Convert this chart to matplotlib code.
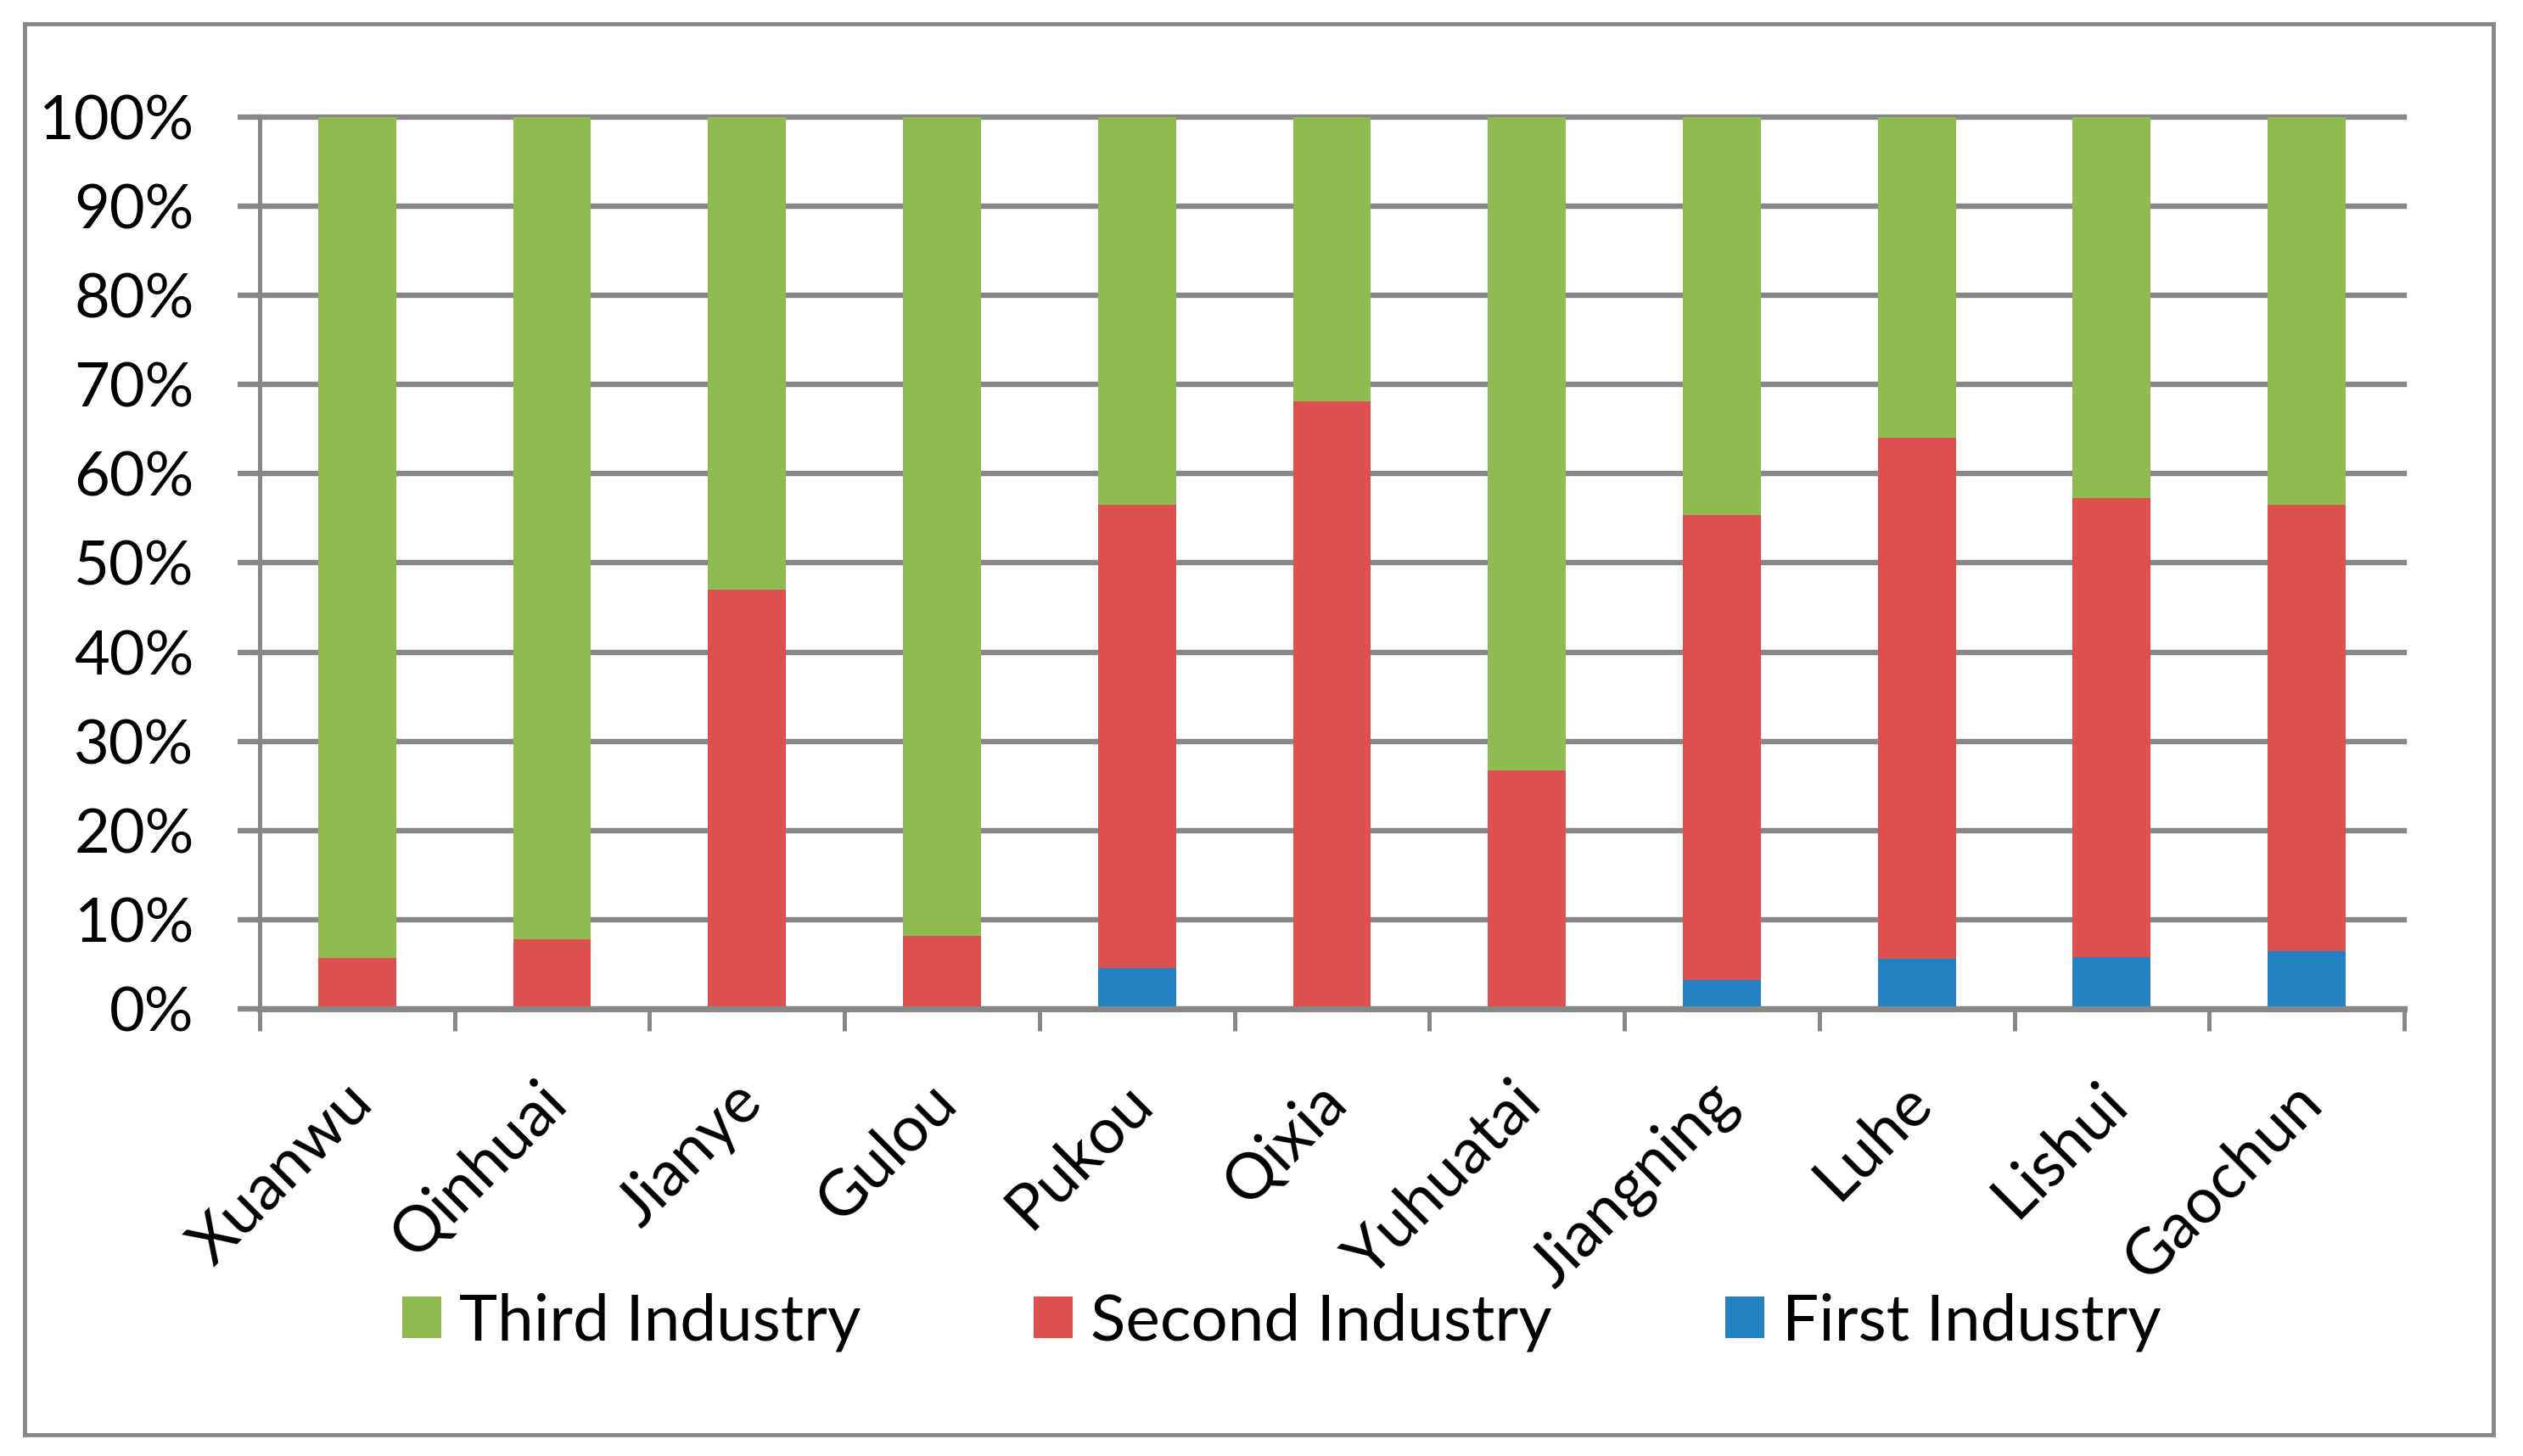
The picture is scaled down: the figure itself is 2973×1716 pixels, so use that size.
import matplotlib
matplotlib.use('Agg')
import matplotlib.pyplot as plt
import matplotlib.transforms as mtransforms
from matplotlib.patches import Patch, Rectangle
import numpy as np

districts = ['Xuanwu', 'Qinhuai', 'Jianye', 'Gulou', 'Pukou', 'Qixia',
             'Yuhuatai', 'Jiangning', 'Luhe', 'Lishui', 'Gaochun']
first_industry = [0.0, 0.0, 0.0, 0.0, 4.6, 0.3, 0.0, 3.2, 5.6, 5.8, 6.5]
second_industry = [5.7, 7.8, 47.0, 8.2, 51.9, 67.8, 26.7, 52.2, 58.4, 51.5, 50.0]
third_industry = [94.3, 92.2, 53.0, 91.8, 43.5, 31.9, 73.3, 44.6, 36.0, 42.7, 43.5]
y_ticks = [0, 10, 20, 30, 40, 50, 60, 70, 80, 90, 100]
y_tick_labels = [f'{v}%' for v in y_ticks]
series_names = ['Third Industry', 'Second Industry', 'First Industry']

GREEN = '#8EBC50'
RED = '#DE5050'
BLUE = '#2481C2'
GREY = '#878787'
FONT = 'Lato'
FS = 52
FS_X = 54
FS_LEG = 55

plt.rcParams['font.family'] = [FONT, 'DejaVu Sans']

fig = plt.figure(figsize=(29.73, 17.16), dpi=100)
ax = fig.add_axes([0.1029, 0.3071, 0.8500, 0.6125])

x = np.arange(len(districts))
w = 0.40
first = np.array(first_industry)
second = np.array(second_industry)
third = np.array(third_industry)
ax.bar(x, first, w, color=BLUE, zorder=1)
ax.bar(x, second, w, bottom=first, color=RED, zorder=1)
ax.bar(x, third, w, bottom=first + second, color=GREEN, zorder=1)

ax.set_xlim(-0.5, len(districts) - 0.5)
ax.set_ylim(0, 100)
ax.set_axisbelow(True)
ax.yaxis.grid(True, color=GREY, lw=4.6)
for gl in ax.get_ygridlines():
    gl.set_clip_on(False)
ax.xaxis.grid(False)

ax.set_yticks(y_ticks)
ax.set_yticklabels(y_tick_labels, fontsize=FS, color='black')
ax.tick_params(axis='y', direction='out', length=18.7, width=4.6, color=GREY, pad=37)

ax.set_xticks(x)
ax.set_xticks(np.arange(-0.5, len(districts), 1.0), minor=True)
ax.tick_params(axis='x', which='major', length=0, pad=71)
ax.tick_params(axis='x', which='minor', direction='out', length=19, width=3.6, color=GREY)
ax.set_xticklabels(districts, fontsize=FS_X, rotation=45, ha='right', va='center',
                   rotation_mode='anchor', color='black')
offset = mtransforms.ScaledTranslation(4.0 / 72, 0, fig.dpi_scale_trans)
for lab in ax.get_xticklabels():
    lab.set_transform(lab.get_transform() + offset)

for s in ['top', 'right']:
    ax.spines[s].set_visible(False)
ax.spines['left'].set_color(GREY)
ax.spines['left'].set_linewidth(3.6)
ax.spines['bottom'].set_color(GREY)
ax.spines['bottom'].set_linewidth(5)

handles = [Patch(facecolor=c, edgecolor='none') for c in (GREEN, RED, BLUE)]
fig.legend(handles, series_names, loc='center', bbox_to_anchor=(0.508, 0.092),
           ncol=3, frameon=False, fontsize=FS_LEG, handlelength=0.6, handleheight=0.6,
           handletextpad=0.28, columnspacing=2.67, borderaxespad=0)

fig.patches.append(Rectangle((29 / 2973, 1 - 1691 / 1716), (2938 - 29) / 2973,
                             (1691 - 28) / 1716, transform=fig.transFigure,
                             fill=False, edgecolor=GREY, lw=3.5, zorder=0))

fig.savefig('out.png', dpi=100, facecolor='white')
